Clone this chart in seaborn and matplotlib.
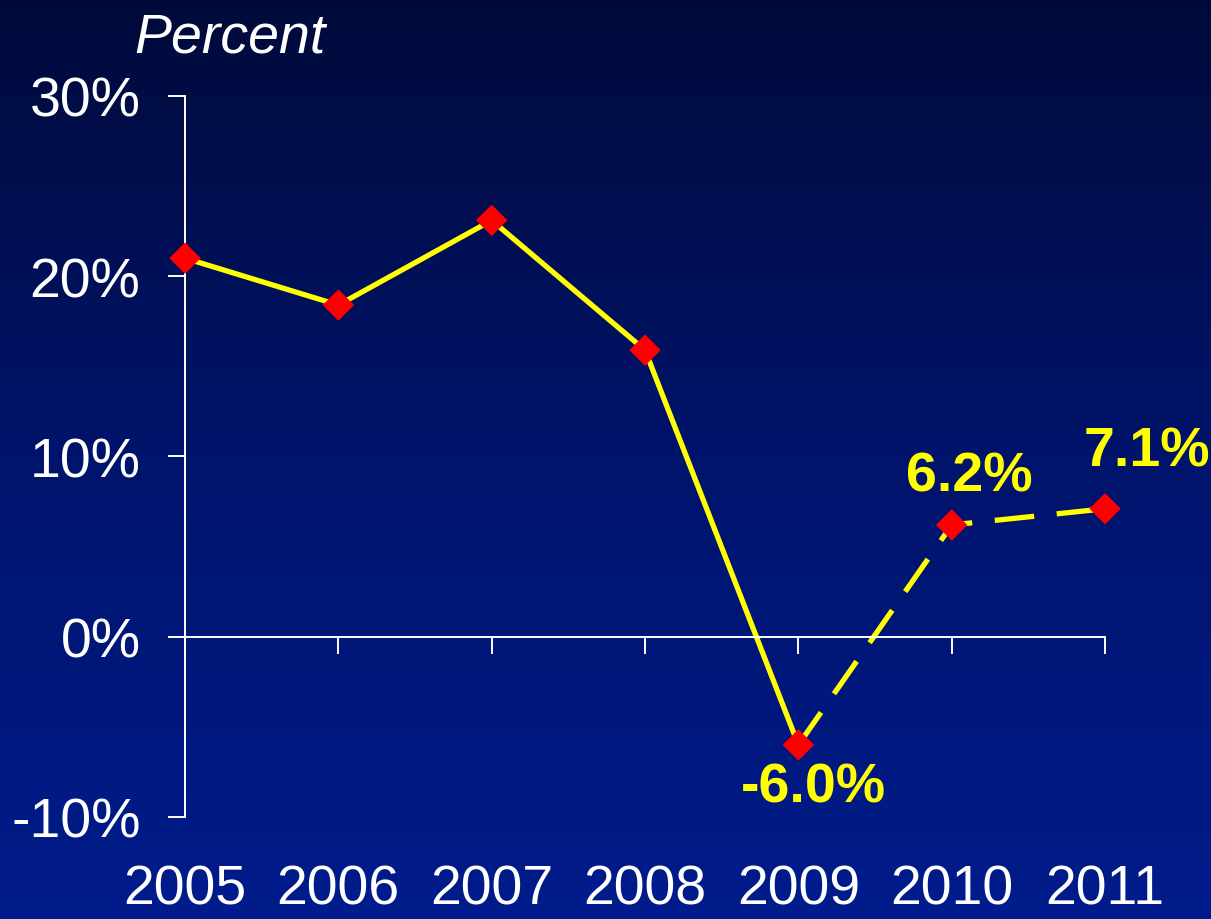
import numpy as np
import pandas as pd
import matplotlib
matplotlib.use("Agg")
import matplotlib.pyplot as plt
from matplotlib.colors import LinearSegmentedColormap
import seaborn as sns

# Annual growth, percent
years = [2005, 2006, 2007, 2008, 2009, 2010, 2011]
growth = [21.0, 18.4, 23.1, 15.9, -6.0, 6.2, 7.1]
# Years from 2009 on are projections, drawn dashed
actual_last = 2009
labelled_years = [2009, 2010, 2011]
y_ticks = [-10, 0, 10, 20, 30]

df = pd.DataFrame({"year": years, "growth": growth})
actual = df[df["year"] <= actual_last]
projected = df[df["year"] >= actual_last]

sns.set_theme(style="white")
plt.rcParams["font.family"] = ["Liberation Sans", "DejaVu Sans"]

fig = plt.figure(figsize=(12.11, 9.2), dpi=100)

# vertical gradient background
bg = fig.add_axes([0, 0, 1, 1], zorder=0)
cmap = LinearSegmentedColormap.from_list("navy", ["#000a3a", "#00146c", "#001c8c"])
bg.imshow(np.linspace(0, 1, 256).reshape(-1, 1), aspect="auto", cmap=cmap,
          extent=[0, 1, 0, 1], origin="upper")
bg.set_axis_off()

ax = fig.add_axes([0.1528, 0.1109, 0.9125 - 0.1528, 0.8946 - 0.1109], zorder=1)
ax.patch.set_alpha(0)

line_kw = dict(color="#ffff00", linewidth=3.8, ax=ax, legend=False)
sns.lineplot(data=actual, x="year", y="growth", **line_kw)
sns.lineplot(data=projected, x="year", y="growth", dashes=False, **line_kw)
ax.lines[-1].set_linestyle((0, (7.5, 4.3)))
sns.scatterplot(data=df, x="year", y="growth", marker="D", s=16 ** 2,
                color="#ff0000", edgecolor="none", ax=ax, zorder=5, clip_on=False,
                legend=False)

ax.set_xlim(years[0], years[-1])
ax.set_ylim(y_ticks[0], y_ticks[-1])
ax.set_xlabel("")
ax.set_ylabel("")

white = "#ffffff"
for side in ["top", "right"]:
    ax.spines[side].set_visible(False)
ax.spines["left"].set_color(white)
ax.spines["left"].set_linewidth(1.4)
ax.spines["bottom"].set_color(white)
ax.spines["bottom"].set_linewidth(1.4)
ax.spines["bottom"].set_position(("data", 0))

ax.set_yticks(y_ticks)
ax.set_yticklabels([f"{v}%" for v in y_ticks])
ax.tick_params(axis="y", direction="out", length=12, width=1.4, color=white,
               labelcolor=white, labelsize=40, pad=20, left=True)
ax.set_xticks(years)
ax.tick_params(axis="x", direction="out", length=12, width=1.4, color=white,
               labelbottom=False, bottom=True)

# year labels sit along the bottom of the figure
xt = ax.get_xaxis_transform()
for yr in years:
    ax.text(yr, -0.1, str(yr), transform=xt, ha="center", va="center",
            color=white, fontsize=40, clip_on=False)

fig.text(0.19, 0.958, "Percent", ha="center", va="center", color=white,
         fontsize=40, style="italic")

offsets = {2009: (11, -31), 2010: (13, 35), 2011: (30, 41)}
for yr in labelled_years:
    val = growth[years.index(yr)]
    ax.annotate(f"{val:.1f}%", (yr, val), xytext=offsets[yr],
                textcoords="offset points", ha="center", va="center",
                color="#ffff00", fontsize=40, fontweight="bold",
                annotation_clip=False)

fig.savefig("out.png", dpi=100)
